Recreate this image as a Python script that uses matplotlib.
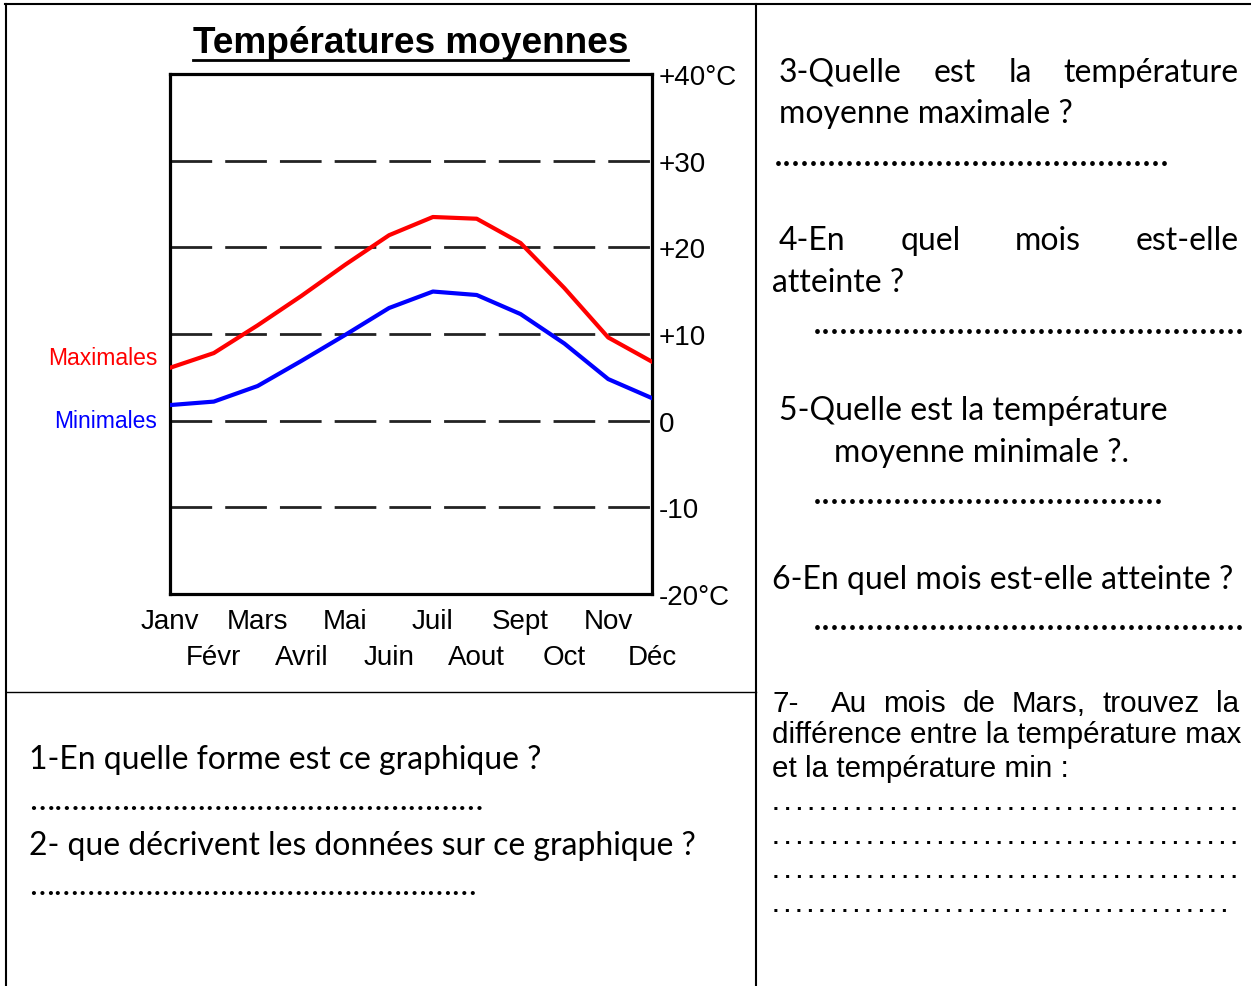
import matplotlib
matplotlib.use('Agg')
import matplotlib.pyplot as plt

# page size in pixels (dpi 100)
W, H = 1251, 987

months = ['Janv', 'Févr', 'Mars', 'Avril', 'Mai', 'Juin',
          'Juil', 'Aout', 'Sept', 'Oct', 'Nov', 'Déc']
t_max = [6.1, 7.8, 11.0, 14.4, 18.0, 21.4, 23.5, 23.3, 20.5, 15.3, 9.6, 6.8]
t_min = [1.8, 2.2, 4.0, 6.9, 9.9, 13.0, 14.9, 14.5, 12.3, 8.9, 4.8, 2.6]
y_ticks = [40, 30, 20, 10, 0, -10, -20]
y_tick_labels = ['+40°C', '+30', '+20', '+10', '0', '-10', '-20°C']
grid_levels = [30, 20, 10, 0, -10]

ARIAL = 'Liberation Sans'
CALIBRI = 'Lato'

fig = plt.figure(figsize=(W / 100, H / 100), dpi=100)
renderer = fig.canvas.get_renderer()

# overlay in pixel coordinates for the worksheet layout
over = fig.add_axes([0, 0, 1, 1])
over.set_xlim(0, W)
over.set_ylim(H, 0)
over.axis('off')


def put(x, y, s, width=None, size=20, family=CALIBRI, **kw):
    t = over.text(x, y, s, fontsize=size, family=family, va='baseline', **kw)
    if width:
        w = t.get_window_extent(renderer).width
        t.set_fontsize(size * width / w)
    return t


def justify(y, words, x0, x1, size, family=CALIBRI, gaps=None):
    # spread words between x0 and x1 like a justified paragraph line
    texts = [put(x0, y, w, size=size, family=family) for w in words]
    widths = [t.get_window_extent(renderer).width for t in texts]
    gaps = gaps or [1] * (len(words) - 1)
    unit = ((x1 - x0) - sum(widths)) / sum(gaps)
    xx = x0
    for t, w, g in zip(texts, widths, gaps + [0]):
        t.set_x(xx)
        xx += w + g * unit


# table borders
lw_b = 1.5
over.plot([5, W], [5, 5], color='black', lw=lw_b)
over.plot([6, 6], [5, H], color='black', lw=lw_b)
over.plot([756, 756], [5, H], color='black', lw=lw_b)
over.plot([6, 756], [693, 693], color='black', lw=1.0)

# ── chart ──────────────────────────────────────────────
ax = fig.add_axes([170 / W, 1 - 595 / H, 482 / W, 520 / H])
x = list(range(len(months)))
for lev in grid_levels:
    ax.axhline(lev, color='#222222', lw=2.0, ls=(0, (15, 4.7)), zorder=1)
ax.plot(x, t_max, color='#ff0000', lw=3, zorder=3)
ax.plot(x, t_min, color='#0000ff', lw=3, zorder=3)
ax.set_xlim(0, 11)
ax.set_ylim(-20, 40)
for sp in ax.spines.values():
    sp.set_linewidth(2.3)
    sp.set_color('black')
ax.set_xticks([])
ax.yaxis.tick_right()
ax.set_yticks(y_ticks)
ax.set_yticklabels(y_tick_labels, fontsize=20, family=ARIAL)
ax.tick_params(axis='y', length=0, pad=5)

for i, m in enumerate(months):
    yy = -27 / 520 if i % 2 == 0 else -63 / 520
    ax.text(i, yy, m, transform=ax.get_xaxis_transform(), ha='center',
            va='center', fontsize=20, family=ARIAL, clip_on=False)

over.text(157, 365, 'Maximales', color='#ff0000', fontsize=16.5,
          family=ARIAL, ha='right', va='baseline')
over.text(157, 428, 'Minimales', color='#0000ff', fontsize=16.5,
          family=ARIAL, ha='right', va='baseline')

title = put(193, 53, 'Températures moyennes', width=435, family=ARIAL,
            fontweight='bold')
bb = title.get_window_extent(renderer)
over.plot([bb.x0, bb.x1], [61, 61], color='black', lw=2)

# ── left bottom questions ─────────────────────────────
put(29, 769, '1-En quelle forme est ce graphique ?', width=514)
put(29, 810, '…' * 18, width=453)
put(29, 855, '2- que décrivent les données sur ce graphique ?', width=669)
put(29, 895, '…' * 18, width=445)

# ── right column questions ────────────────────────────
ref = put(779, 420, '5-Quelle est la température', width=389)
fs = ref.get_fontsize()

justify(82, ['3-Quelle', 'est', 'la', 'température'], 779, 1239, fs)
put(779, 123, 'moyenne maximale ?', size=fs)
put(774, 166, '.' * 44, width=390)

justify(250, ['4-En', 'quel', 'mois', 'est-elle'], 779, 1239, fs)
put(772, 292, 'atteinte ?', size=fs)
put(813, 334, '.' * 48, width=424)

put(834, 462, 'moyenne minimale ?.', size=fs)
put(813, 504, '.' * 39, width=346)

put(772, 589, '6-En quel mois est-elle atteinte ?', size=fs)
put(813, 630, '.' * 48, width=424)

# question 7 (Arial)
line2 = put(772, 743, 'différence entre la température max', width=467,
            family=ARIAL)
fs7 = line2.get_fontsize()
justify(712, ['7-', 'Au', 'mois', 'de', 'Mars,', 'trouvez', 'la'],
        772, 1239, fs7, family=ARIAL, gaps=[2, 1, 1, 1, 1, 1])
put(772, 777, 'et la température min :', size=fs7, family=ARIAL)
for yy, wd in [(810, 466), (844, 466), (878, 466), (912, 459)]:
    put(773, yy, ' '.join(['.'] * 40), width=wd, family=ARIAL,
        fontweight='bold')

fig.savefig('out.png', dpi=100)
